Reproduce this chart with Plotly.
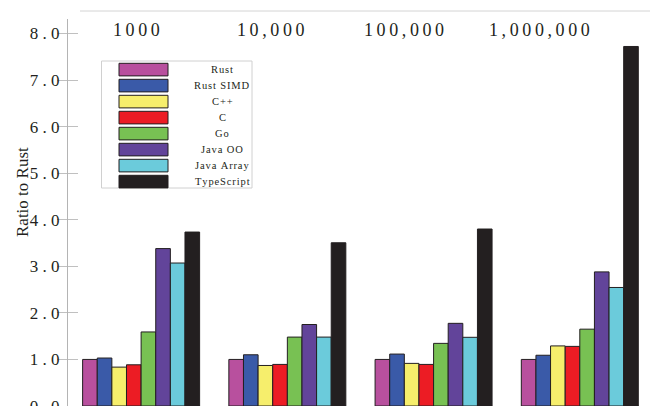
import plotly.graph_objects as go

# Problem sizes (groups) and the languages compared
sizes = ["1000", "10,000", "100,000", "1,000,000"]
languages = ["Rust", "Rust SIMD", "C++", "C", "Go", "Java OO", "Java Array", "TypeScript"]
colors = ["#b8509e", "#3a5aa8", "#f6ee6c", "#ec1c24", "#78c153", "#62449a", "#6bcbdb", "#231f20"]

# Run time relative to Rust, one list per language (values for each size)
rust = [1.00, 1.00, 1.00, 1.00]
rust_simd = [1.03, 1.10, 1.115, 1.09]
cpp = [0.835, 0.87, 0.915, 1.29]
c_lang = [0.885, 0.893, 0.893, 1.28]
go_lang = [1.59, 1.48, 1.345, 1.65]
java_oo = [3.38, 1.75, 1.775, 2.88]
java_array = [3.07, 1.48, 1.475, 2.545]
typescript = [3.735, 3.505, 3.80, 7.72]

series = [rust, rust_simd, cpp, c_lang, go_lang, java_oo, java_array, typescript]

y_ticks = [0, 1, 2, 3, 4, 5, 6, 7, 8]

W, H = 650, 406
L, R, T, B = 68, 0, 19, 0
Y_MAX = 8.31
FONT = "Liberation Serif"


def px_x(px):
    return (px - L) / (W - L - R)


def px_y(py):
    return (H - B - py) / (H - T - B)


def spaced(s, sep=" "):
    return sep.join(s)


fig = go.Figure()
for name, vals, col in zip(languages, series, colors):
    fig.add_trace(go.Bar(
        x=sizes, y=vals, name=name,
        marker=dict(color=col, line=dict(color="#231f20", width=1)),
        showlegend=False,
    ))

# Ticks that cross the axis line: outward on yaxis, inward on an overlaid twin
fig.update_layout(
    width=W, height=H,
    margin=dict(l=L, r=R, t=T, b=B, pad=0, autoexpand=False),
    paper_bgcolor="white", plot_bgcolor="white",
    barmode="group", bargap=0.2, bargroupgap=0,
    font=dict(family=FONT, color="#231f20"),
    xaxis=dict(
        type="category", range=[-0.5, 3.48], showticklabels=False,
        showline=True, linecolor="#c8c8c8", linewidth=1, ticks="",
        showgrid=False, zeroline=False, automargin=False,
    ),
    yaxis=dict(
        range=[0, Y_MAX], tickvals=y_ticks,
        ticktext=[spaced(f"{v:.1f}") for v in y_ticks],
        ticks="outside", ticklen=10, tickcolor="#c0c0c0", tickwidth=1,
        ticklabelstandoff=-6, ticklabeloverflow="allow", automargin=False,
        showline=True, linecolor="#b4b4b4", linewidth=1,
        showgrid=False, zeroline=False,
        tickfont=dict(family=FONT, size=17, color="#231f20"),
    ),
    yaxis2=dict(
        overlaying="y", matches="y", side="left", tickvals=y_ticks,
        showticklabels=False, ticks="inside", ticklen=10,
        tickcolor="#c0c0c0", tickwidth=1, showline=False, showgrid=False,
        zeroline=False, automargin=False,
    ),
)
# invisible trace to make the twin axis render
fig.add_trace(go.Scatter(x=sizes, y=rust, yaxis="y2", mode="markers",
                         marker=dict(opacity=0), hoverinfo="skip", showlegend=False))

shapes = []
annotations = []

# top rule
shapes.append(dict(type="line", xref="paper", yref="paper",
                   x0=px_x(80), x1=1, y0=px_y(11), y1=px_y(11),
                   line=dict(color="#d4d4d4", width=1)))

# group titles along the top
for label, cx in zip(sizes, [136, 271, 404, 539]):
    annotations.append(dict(
        text=spaced(label, "\u2009"), xref="paper", yref="paper",
        x=px_x(cx), y=px_y(30), xanchor="center", yanchor="middle",
        showarrow=False, font=dict(family=FONT, size=18, color="#231f20"),
    ))

# y axis title
annotations.append(dict(
    text="Ratio to Rust", xref="paper", yref="paper",
    x=px_x(22), y=px_y(192), xanchor="center", yanchor="middle",
    textangle=-90, showarrow=False,
    font=dict(family=FONT, size=17, color="#231f20"),
))

# legend box with wide swatches
shapes.append(dict(type="rect", xref="paper", yref="paper",
                   x0=px_x(101.5), x1=px_x(252), y0=px_y(188), y1=px_y(61),
                   line=dict(color="#d0d0d0", width=1), fillcolor="white"))
for i, (name, col) in enumerate(zip(languages, colors)):
    top = 63.3 + 16 * i
    shapes.append(dict(type="rect", xref="paper", yref="paper",
                       x0=px_x(119), x1=px_x(168), y0=px_y(top + 12.6), y1=px_y(top),
                       line=dict(color="#231f20", width=1), fillcolor=col))
    annotations.append(dict(
        text=spaced(name, "\u200a"), xref="paper", yref="paper",
        x=px_x(222), y=px_y(top + 6.3), xanchor="center", yanchor="middle",
        showarrow=False, font=dict(family=FONT, size=10.5, color="#231f20"),
    ))

fig.update_layout(shapes=shapes, annotations=annotations)
fig.write_html("out.html")
